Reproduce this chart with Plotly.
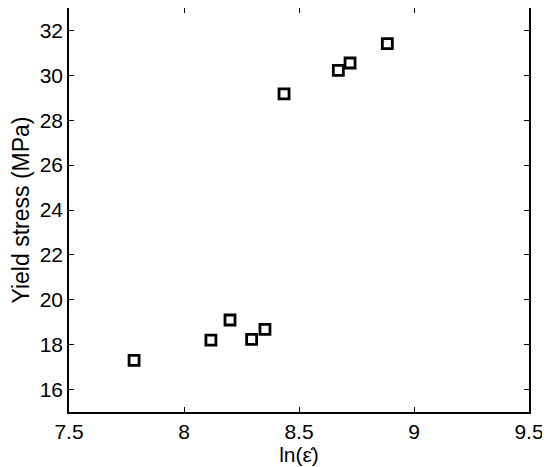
import plotly.graph_objects as go

strain_rate_ln = [7.783, 8.117, 8.200, 8.294, 8.352, 8.435, 8.671, 8.722, 8.884]
yield_stress = [17.3, 18.2, 19.1, 18.24, 18.68, 29.17, 30.22, 30.55, 31.41]

x_ticks = [7.5, 8, 8.5, 9, 9.5]
x_tick_labels = ["7.5", "8", "8.5", "9", "9.5"]
y_ticks = [16, 18, 20, 22, 24, 26, 28, 30, 32]

fig = go.Figure()
fig.add_trace(go.Scatter(
    x=strain_rate_ln, y=yield_stress, mode="markers",
    marker=dict(symbol="square-open", size=10, color="black",
                line=dict(width=2.8, color="black")),
    showlegend=False,
))

font = dict(family="Liberation Sans, Arial, sans-serif", size=21, color="black")

# page body has an 8px default margin, so the figure is sized to fit the window
fig.update_layout(
    width=542, height=459,
    margin=dict(l=61, r=21, t=0, b=55, autoexpand=False),
    paper_bgcolor="white", plot_bgcolor="white",
    font=font,
)
fig.update_xaxes(
    range=[7.5, 9.5], tickvals=x_ticks, ticktext=x_tick_labels,
    ticks="inside", ticklen=5, tickwidth=1, tickcolor="black",
    showline=True, linecolor="black", linewidth=1.5, mirror="ticks",
    showgrid=False, zeroline=False,
    title=dict(text="ln(ε\u0307)", font=dict(size=21), standoff=2),
)
fig.update_yaxes(
    range=[15, 33], tickvals=y_ticks,
    ticks="inside", ticklen=5, tickwidth=1, tickcolor="black",
    showline=True, linecolor="black", linewidth=1.5, mirror="ticks",
    showgrid=False, zeroline=False,
    title=dict(text="Yield stress (MPa)", font=dict(size=23), standoff=10),
)

fig.write_html("out.html")
